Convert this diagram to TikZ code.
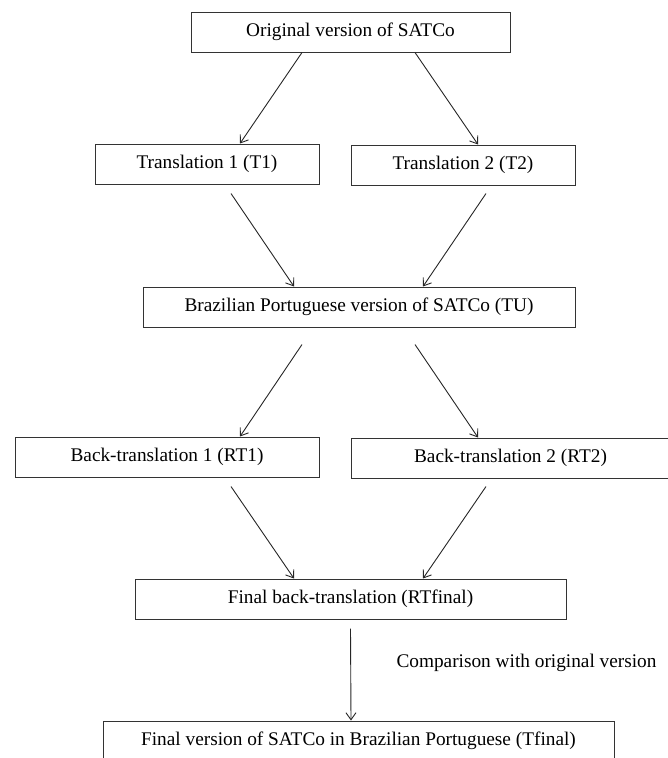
\documentclass[tikz,border=0pt]{standalone}
\usepackage{fontspec}
\setmainfont{Liberation Serif}
\usepackage{tikz}
\usetikzlibrary{arrows.meta, positioning, calc}

\begin{document}
\begin{tikzpicture}[
  x=1pt, y=-1pt,
  stage/.style={
    draw=black!80, line width=1pt,
    minimum height=40pt, inner sep=0pt,
    font=\fontsize{19.3}{22}\selectfont
  },
  arrow/.style={-{Straight Barb[length=7pt, width=10pt]}, line width=0.9pt, black!85}
]
\useasboundingbox (0,0) rectangle (668,758);

% ---- Original ----
\node[stage, minimum width=319pt] (orig) at (350.5,32) {Original version of SATCo};

% ---- Translations ----
\node[stage, minimum width=224pt] (trans1) at (207,164) {Translation 1 (T1)};
\node[stage, minimum width=224pt] (trans2) at (463,165) {Translation 2 (T2)};

% ---- Synthesis ----
\node[stage, minimum width=432pt] (synth) at (359,307) {Brazilian Portuguese version of SATCo (TU)};

% ---- Back-translations ----
\node[stage, minimum width=304pt] (back1) at (167,457) {Back-translation 1 (RT1)};
\node[stage, minimum width=319pt] (back2) at (510.5,458) {Back-translation 2 (RT2)};

% ---- Final back-translation ----
\node[stage, minimum width=431pt] (backfin) at (350.5,599) {Final back-translation (RTfinal)};

% ---- Final version ----
\node[stage, minimum width=511pt] (finalv) at (358.5,741) {Final version of SATCo in Brazilian Portuguese (Tfinal)};

% ---- Arrows ----
\draw[arrow] ([xshift=-48.5pt]orig.south) -- ([xshift=33pt]trans1.north);
\draw[arrow] ([xshift=64.5pt]orig.south) -- ([xshift=15pt]trans2.north);
\draw[arrow] ([shift={(24pt,-9pt)}]trans1.south) -- ([xshift=-65pt]synth.north);
\draw[arrow] ([shift={(23pt,-8pt)}]trans2.south) -- ([xshift=64pt]synth.north);
\draw[arrow] ([shift={(-57pt,-17pt)}]synth.south) -- ([xshift=73pt]back1.north);
\draw[arrow] ([shift={(56pt,-17pt)}]synth.south) -- ([xshift=-32.5pt]back2.north);
\draw[arrow] ([shift={(64pt,-9pt)}]back1.south) -- ([xshift=-56.5pt]backfin.north);
\draw[arrow] ([shift={(-24.5pt,-8pt)}]back2.south) -- ([xshift=72.5pt]backfin.north);
\draw[arrow] ([shift={(0pt,-9pt)}]backfin.south) -- ([xshift=-7.5pt]finalv.north);

% ---- Comparison label ----
\node[font=\fontsize{19.3}{22}\selectfont, anchor=west] (compare) at (393,663)
  {Comparison with original version};

\end{tikzpicture}
\end{document}
